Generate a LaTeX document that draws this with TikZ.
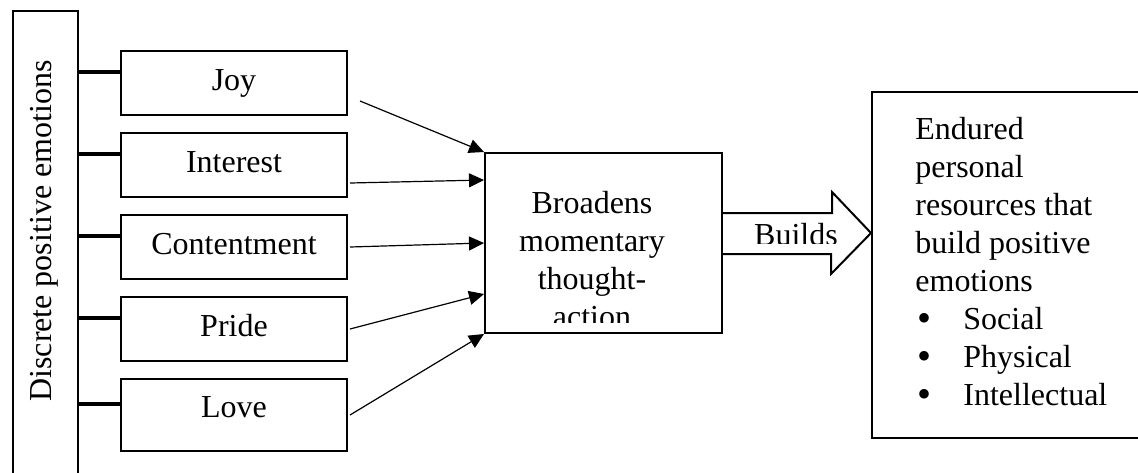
\documentclass[tikz,border=0pt]{standalone}
\usepackage{fontspec}
\setmainfont{Liberation Serif}
\usetikzlibrary{arrows.meta,positioning}

\newcommand{\resbullet}{\makebox[24pt][l]{\hspace{1pt}\smash{\raisebox{-1pt}{\scalebox{1.25}{\textbullet}}}}}

\begin{document}
\begin{tikzpicture}[
    x=0.5pt, y=-0.5pt,
    font=\fontsize{16pt}{19pt}\selectfont,
    node distance=8pt,
    frame/.style={draw, rectangle, line width=1pt, inner sep=0pt},
    emotion/.style={frame, minimum width=113pt, minimum height=32pt,
                    text height=11pt, text depth=4pt},
    stem/.style={line width=2pt},
    arrow/.style={-{Triangle[length=7.5pt,width=7pt]}, line width=0.6pt},
    blockarrow/.style={draw, line width=1pt, line join=miter}
]
\clip (0,0) rectangle (1138,472);

% column of discrete emotions
\node[frame, line width=1.2pt, anchor=north west,
      minimum width=32.5pt, minimum height=260pt] (discrete) at (12,10) {};
\node[rotate=90] (discretelbl) at (44,231) {Discrete positive emotions};

\node[emotion, anchor=north west] (joy) at (120,50) {Joy};
\node[emotion, below=of joy]         (interest)    {Interest};
\node[emotion, below=of interest]    (contentment) {Contentment};
\node[emotion, below=of contentment] (pride)       {Pride};
\node[emotion, below=of pride, minimum height=36pt, text depth=9pt] (love) {Love};

\foreach \e in {joy,interest,contentment,pride,love}
    \draw[stem] ([yshift=5.5pt]\e.west) -- ([yshift=5.5pt]\e.west -| discrete.east);

% broaden box, text runs past its lower edge
\node[frame, anchor=north west, minimum width=118.5pt, minimum height=90pt] (broaden) at (484,152) {};
\begin{scope}
    \clip (broaden.north west) rectangle ([yshift=6pt]broaden.south east);
    \node[align=center, anchor=north, inner sep=0pt] (broadentxt) at (592,191)
        {Broadens\\momentary\\thought-\\action};
\end{scope}

\draw[arrow] ([xshift=6pt,yshift=-9pt]joy.east) -- (broaden.north west);
\draw[arrow] ([xshift=1pt,yshift=-9pt]interest.east) -- ([yshift=31.5pt]broaden.west);
\draw[arrow] ([xshift=1pt]contentment.east) -- (broaden.west);
\draw[arrow] ([xshift=1pt]pride.east) -- ([yshift=-25.5pt]broaden.west);
\draw[arrow] ([xshift=1pt]love.east) -- (broaden.south west);

% resources
\node[frame, anchor=north west, minimum width=150pt, minimum height=173pt] (resources) at (871,91) {};
\node[align=left, anchor=north west, inner sep=0pt] (resourcestxt) at (915,117)
    {Endured\\personal\\resources that\\build positive\\emotions\\
     \resbullet Social\\
     \resbullet Physical\\
     \resbullet Intellectual};

% the "Builds" block arrow
\draw[blockarrow] ([yshift=15pt]broaden.east) -- ++(54.5pt,0pt) -- ++(0pt,10.5pt)
    -- ([yshift=16pt]resources.west) -- ++(-20pt,-20.5pt) -- ++(0pt,10pt)
    -- ([yshift=-5.5pt]broaden.east);
\begin{scope}
    \clip (721,200) rectangle (868,243);
    \node[anchor=base] (buildslbl) at (796,245) {Builds};
\end{scope}
\end{tikzpicture}
\end{document}
